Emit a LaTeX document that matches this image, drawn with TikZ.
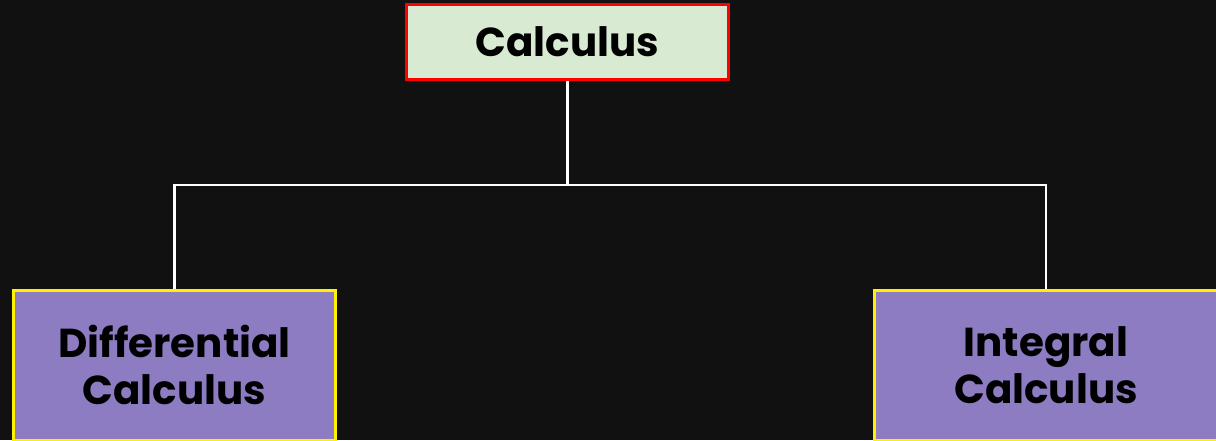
\documentclass[tikz,border=0pt]{standalone}
\usepackage{fontspec}
\setmainfont{Poppins}
\usepackage{xcolor}
\usetikzlibrary{positioning}
\definecolor{bgdark}{RGB}{17,17,17}
\definecolor{topfill}{RGB}{217,234,211}
\definecolor{subfill}{RGB}{142,124,195}
\tikzset{
  % Tree styles
  rootbox/.style={rectangle, minimum width=6.44cm, minimum height=1.5cm, text centered, draw=red, line width=1.7pt, fill=topfill, font=\fontsize{23}{27}\selectfont\bfseries},
  leafbox/.style={rectangle, minimum width=#1, minimum height=3.0cm, align=center, draw=yellow, line width=1.7pt, fill=subfill, font=\fontsize{23}{27}\selectfont\bfseries},
  leafbox/.default={6.44cm},
  link/.style={draw=white, line width=1.6pt},
}
\begin{document}
\begin{tikzpicture}[x=0.02cm, y=-0.02cm]
    % Background
    \fill[bgdark] (0,0) rectangle (1216,440);
    \useasboundingbox (0,0) rectangle (1216,440);

    % Boxes
    \node[rootbox] (calc) at (567.5,42) {Calculus};
    \node[leafbox] (diff) at (174.5,365) {Differential\\Calculus};
    \node[leafbox=6.86cm] (integ) at (1046,365) {Integral\\Calculus};

    % Connectors
    \coordinate (split) at (567.5,185);
    \draw[link] (calc.south) -- (split);
    \draw[link] (split) -| (diff.north);
    \draw[link] (split) -| (integ.north);
\end{tikzpicture}
\end{document}
